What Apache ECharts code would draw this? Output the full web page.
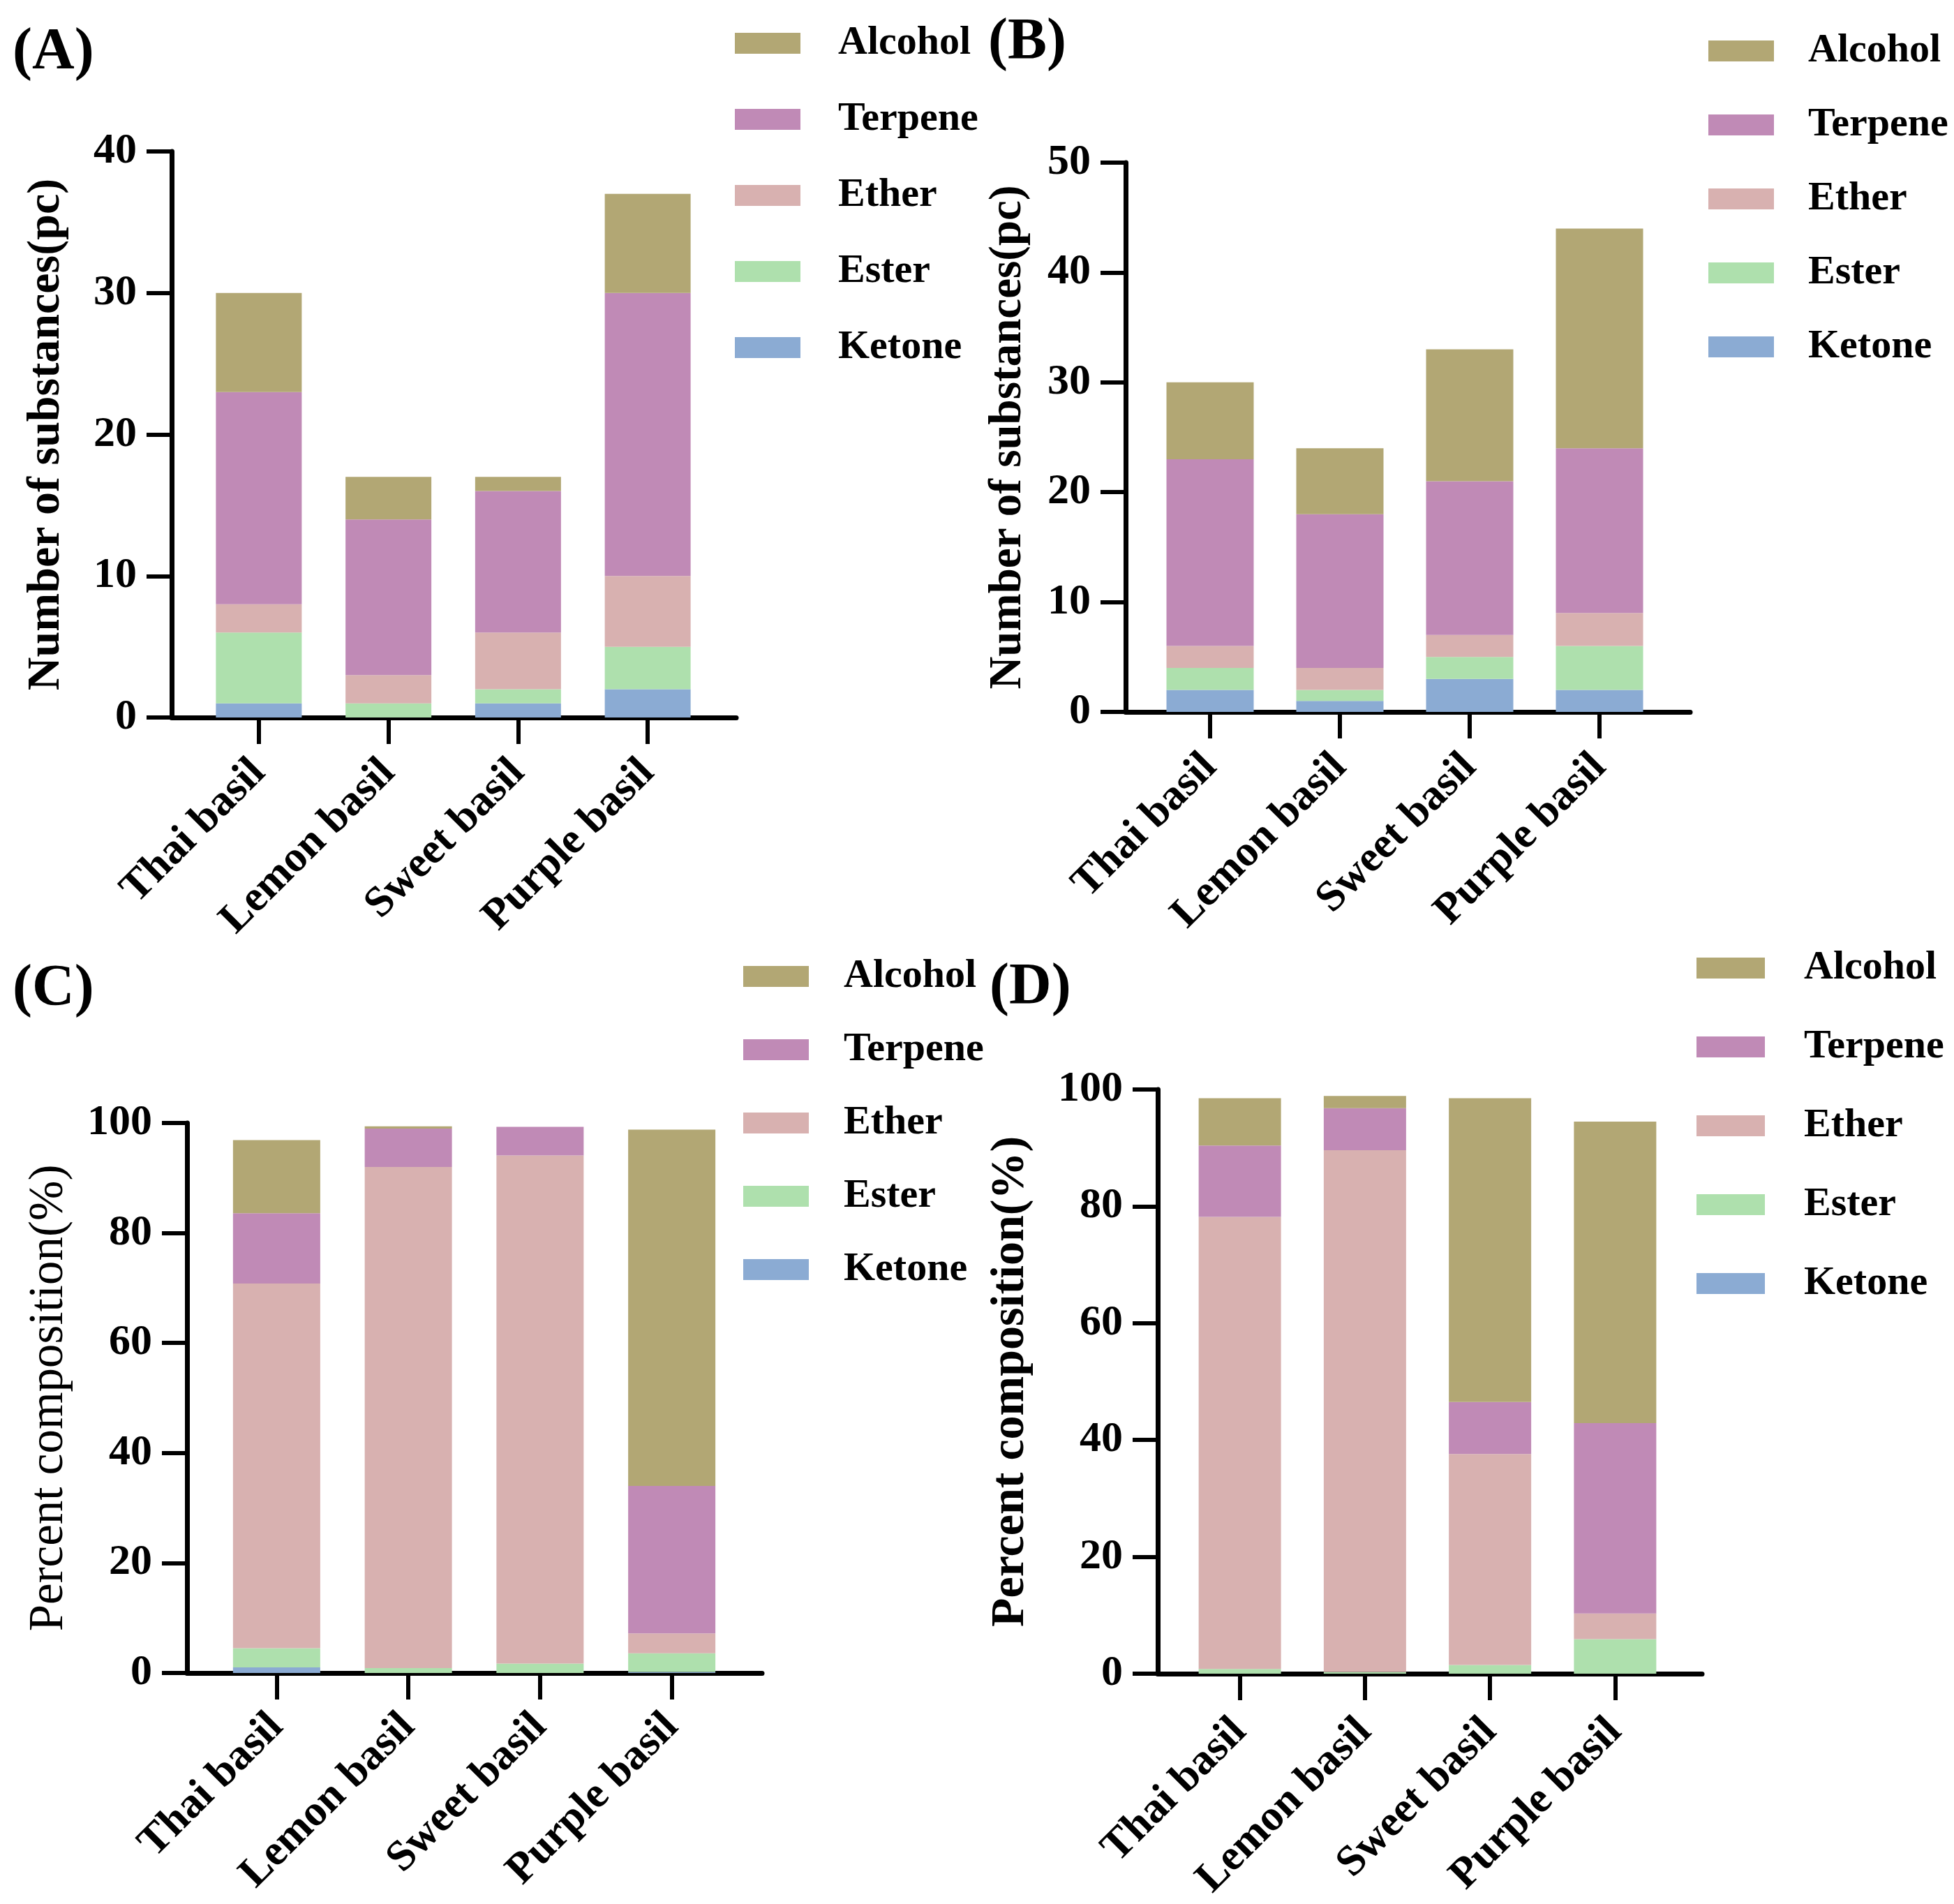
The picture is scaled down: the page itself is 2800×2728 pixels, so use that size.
<!DOCTYPE html>
<html>
<head>
    <meta charset="utf-8" />
    <script src="https://cdn.jsdelivr.net/npm/echarts@6/dist/echarts.min.js"></script>
    <style>
        html, body { margin: 0; padding: 0; background: #fff; }
        #chart { width: 2800px; height: 2728px; }
    </style>
</head>
<body>
    <div id="chart"></div>
    <script>
        // categories and series (stack order: bottom -> top)
        var categories = ['Thai basil', 'Lemon basil', 'Sweet basil', 'Purple basil']
        var stackOrder = ['Ketone', 'Ester', 'Ether', 'Terpene', 'Alcohol']
        var legendOrder = ['Alcohol', 'Terpene', 'Ether', 'Ester', 'Ketone']

        // (A) number of substances (pc)
        var aKetone  = [1, 0, 1, 2]
        var aEster   = [5, 1, 1, 3]
        var aEther   = [2, 2, 4, 5]
        var aTerpene = [15, 11, 10, 20]
        var aAlcohol = [7, 3, 1, 7]

        // (B) number of substances (pc)
        var bKetone  = [2, 1, 3, 2]
        var bEster   = [2, 1, 2, 4]
        var bEther   = [2, 2, 2, 3]
        var bTerpene = [17, 14, 14, 15]
        var bAlcohol = [7, 6, 12, 20]

        // (C) percent composition (%)
        var cKetone  = [1.0, 0, 0, 0.2]
        var cEster   = [3.5, 0.9, 1.7, 3.4]
        var cEther   = [66.3, 91.1, 92.4, 3.6]
        var cTerpene = [12.8, 7.0, 5.2, 26.8]
        var cAlcohol = [13.3, 0.4, 0, 64.8]

        // (D) percent composition (%)
        var dKetone  = [0, 0, 0, 0]
        var dEster   = [0.8, 0.3, 1.5, 5.9]
        var dEther   = [77.4, 89.3, 36.1, 4.4]
        var dTerpene = [12.2, 7.2, 8.9, 32.6]
        var dAlcohol = [8.1, 2.1, 52.0, 51.6]

        var colors = {
            Alcohol: '#b2a774',
            Terpene: '#c08ab6',
            Ether: '#d8b1b0',
            Ester: '#aee0ad',
            Ketone: '#8babd3'
        }

        var FONT = 'Liberation Serif'

        var panels = [
            {
                label: '(A)', labelPos: [18, 34],
                outer: { left: 246, top: 217, width: 809, height: 811 },
                inner: { left: 278, width: 743 },
                max: 40, interval: 10, barWidth: 123, labelMargin: 70,
                yName: 'Number of substances(pc)', nameBold: true, nameSize: 66, nameGap: 146,
                legend: { left: 1053, top: 33, gap: 51, pad: 49 },
                data: [aKetone, aEster, aEther, aTerpene, aAlcohol]
            },
            {
                label: '(B)', labelPos: [1416, 20],
                outer: { left: 1613, top: 233, width: 809, height: 787 },
                inner: { left: 1641, width: 744 },
                max: 50, interval: 10, barWidth: 125, labelMargin: 70,
                yName: 'Number of substances(pc)', nameBold: true, nameSize: 65, nameGap: 135,
                legend: { left: 2448, top: 44, gap: 48, pad: 44 },
                data: [bKetone, bEster, bEther, bTerpene, bAlcohol]
            },
            {
                label: '(C)', labelPos: [18, 1376],
                outer: { left: 268, top: 1609, width: 824, height: 788 },
                inner: { left: 302, width: 755 },
                max: 100, interval: 20, barWidth: 125, labelMargin: 68,
                yName: 'Percent composition(%)', nameBold: false, nameSize: 69, nameGap: 163,
                legend: { left: 1065, top: 1370, gap: 47, pad: 45 },
                data: [cKetone, cEster, cEther, cTerpene, cAlcohol]
            },
            {
                label: '(D)', labelPos: [1418, 1374],
                outer: { left: 1659, top: 1561, width: 780, height: 837 },
                inner: { left: 1687, width: 717 },
                max: 100, interval: 20, barWidth: 118, labelMargin: 74,
                yName: 'Percent composition(%)', nameBold: true, nameSize: 68, nameGap: 177,
                legend: { left: 2431, top: 1358, gap: 55, pad: 51 },
                data: [dKetone, dEster, dEther, dTerpene, dAlcohol]
            }
        ]

        var option = {
            animation: false,
            backgroundColor: '#fff',
            title: [],
            legend: [],
            grid: [],
            xAxis: [],
            yAxis: [],
            series: []
        }

        panels.forEach(function (p, i) {
            var gOuter = i * 2
            var gInner = i * 2 + 1

            option.title.push({
                text: p.label,
                left: p.labelPos[0],
                top: p.labelPos[1],
                padding: 0,
                textStyle: { fontFamily: FONT, fontWeight: 'bold', fontSize: 84, color: '#000' }
            })

            option.legend.push({
                orient: 'vertical',
                left: p.legend.left,
                top: p.legend.top,
                padding: 0,
                itemGap: p.legend.gap,
                itemWidth: i === 3 ? 98 : 94,
                itemHeight: 30,
                icon: 'rect',
                data: legendOrder,
                selectedMode: false,
                textStyle: {
                    fontFamily: FONT, fontWeight: 'bold', fontSize: 58, lineHeight: 58,
                    color: '#000', padding: [0, 0, 0, p.legend.pad]
                }
            })

            // outer grid: axis lines, y ticks and y title
            option.grid.push({
                left: p.outer.left, top: p.outer.top,
                width: p.outer.width, height: p.outer.height,
                containLabel: false, outerBoundsMode: 'none'
            })
            // inner grid: bars and category ticks
            option.grid.push({
                left: p.inner.left, top: p.outer.top,
                width: p.inner.width, height: p.outer.height,
                containLabel: false, outerBoundsMode: 'none'
            })

            option.xAxis.push({
                gridIndex: gOuter,
                type: 'value', min: 0, max: 1,
                axisLine: { show: true, lineStyle: { color: '#000', width: 7 } },
                axisTick: { show: false },
                axisLabel: { show: false },
                splitLine: { show: false }
            })
            option.xAxis.push({
                gridIndex: gInner,
                type: 'category',
                data: categories,
                axisLine: { show: false },
                axisTick: { show: true, alignWithLabel: true, length: 38, lineStyle: { color: '#000', width: 6 } },
                axisLabel: {
                    rotate: 45, margin: p.labelMargin, interval: 0,
                    fontFamily: FONT, fontWeight: 'bold', fontSize: 62, color: '#000'
                },
                splitLine: { show: false }
            })

            option.yAxis.push({
                gridIndex: gOuter,
                type: 'value', min: 0, max: p.max, interval: p.interval,
                name: p.yName,
                nameLocation: 'middle',
                nameRotate: 90,
                nameGap: p.nameGap,
                nameTextStyle: {
                    fontFamily: FONT, fontWeight: p.nameBold ? 'bold' : 'normal',
                    fontSize: p.nameSize, color: '#000'
                },
                axisLine: { show: true, lineStyle: { color: '#000', width: 7 } },
                axisTick: { show: true, length: 36, lineStyle: { color: '#000', width: 6 } },
                axisLabel: { margin: 50, fontFamily: FONT, fontWeight: 'bold', fontSize: 62, color: '#000' },
                splitLine: { show: false }
            })
            option.yAxis.push({
                gridIndex: gInner,
                type: 'value', min: 0, max: p.max, interval: p.interval,
                show: false,
                splitLine: { show: false }
            })

            stackOrder.forEach(function (name, k) {
                option.series.push({
                    name: name,
                    type: 'bar',
                    stack: 'panel' + i,
                    xAxisIndex: gInner,
                    yAxisIndex: gInner,
                    barWidth: p.barWidth,
                    itemStyle: { color: colors[name] },
                    data: p.data[k]
                })
            })
        })

        var chart = echarts.init(document.getElementById('chart'))
        chart.setOption(option)

        window.addEventListener('resize', function () {
            chart.resize()
        })
    </script>
</body>
</html>
